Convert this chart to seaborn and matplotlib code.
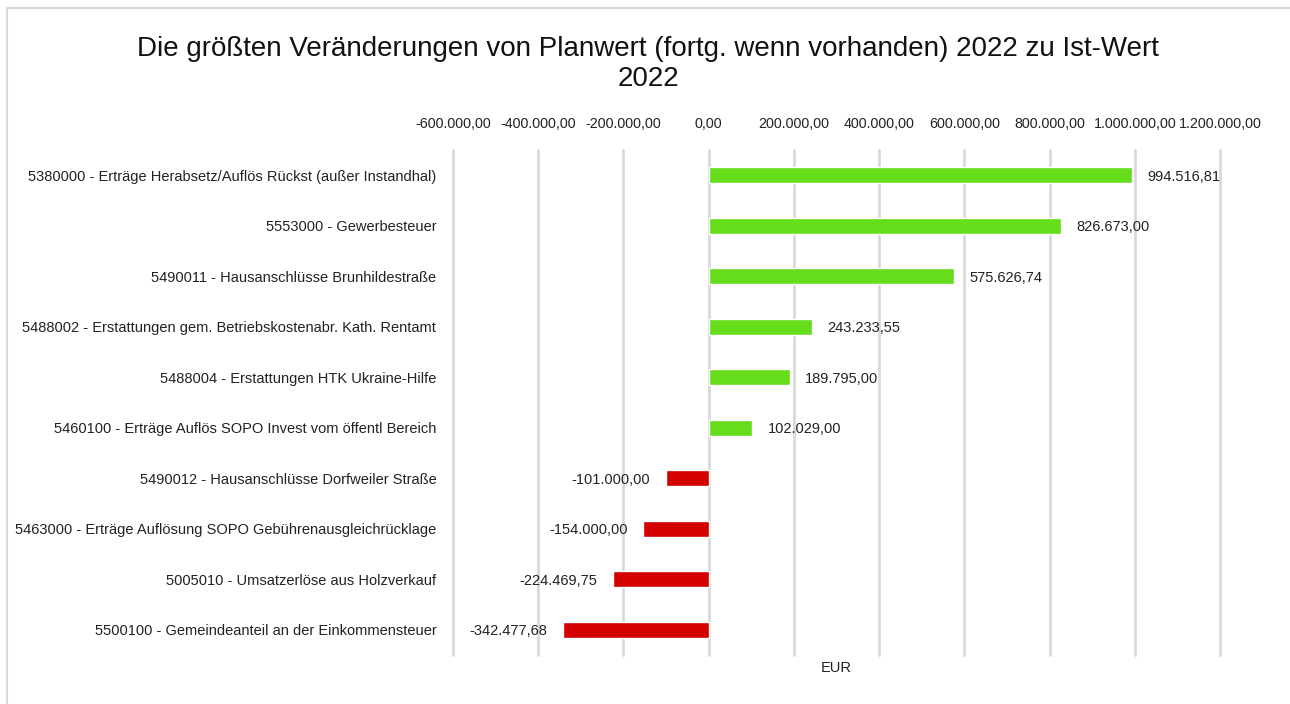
import pandas as pd
import seaborn as sns
import matplotlib.pyplot as plt
from matplotlib.patches import Rectangle

konten = [
    '5380000 - Erträge Herabsetz/Auflös Rückst (außer Instandhal)',
    '5553000 - Gewerbesteuer',
    '5490011 - Hausanschlüsse Brunhildestraße',
    '5488002 - Erstattungen gem. Betriebskostenabr. Kath. Rentamt',
    '5488004 - Erstattungen HTK Ukraine-Hilfe',
    '5460100 - Erträge Auflös SOPO Invest vom öffentl Bereich',
    '5490012 - Hausanschlüsse Dorfweiler Straße',
    '5463000 - Erträge Auflösung SOPO Gebührenausgleichrücklage',
    '5005010 - Umsatzerlöse aus Holzverkauf',
    '5500100 - Gemeindeanteil an der Einkommensteuer',
]
werte = [994516.81, 826673.00, 575626.74, 243233.55, 189795.00,
         102029.00, -101000.00, -154000.00, -224469.75, -342477.68]
ticks = [-600000, -400000, -200000, 0, 200000, 400000, 600000, 800000, 1000000, 1200000]


def de(v):
    return f"{v:,.2f}".replace(",", "X").replace(".", ",").replace("X", ".")


df = pd.DataFrame({'konto': konten, 'wert': werte})
df['vz'] = ['pos' if w >= 0 else 'neg' for w in werte]

sns.set_style('white')
plt.rcParams['font.family'] = ['Liberation Sans', 'DejaVu Sans']

fig = plt.figure(figsize=(12.9, 7.04), dpi=100)
ax = fig.add_axes([453 / 1290, 1 - 655 / 704, (1220 - 453) / 1290, 505 / 704])

sns.barplot(data=df, y='konto', x='wert', hue='vz', orient='h',
            palette={'pos': '#66dd1a', 'neg': '#d40000'}, saturation=1,
            width=0.32, dodge=False, legend=False, ax=ax)

for i, w in enumerate(werte):
    ax.annotate(de(w), (w, i), xytext=(11 if w >= 0 else -11, -1),
                textcoords='offset points', va='center',
                ha='left' if w >= 0 else 'right', fontsize=10.5, color='#222222')

ax.set_xlim(-600000, 1200000)
ax.set_ylim(9.5, -0.5)
ax.set_xticks(ticks)
ax.set_xticklabels([de(t) for t in ticks], fontsize=10.3, color='#222222')
ax.xaxis.tick_top()
ax.tick_params(axis='x', length=0, pad=14)
ax.tick_params(axis='y', length=0, pad=12, labelsize=10.5, labelcolor='#222222')
ax.grid(axis='x', color='#d9d9d9', linewidth=2)
for l in ax.get_xgridlines():
    l.set_clip_on(False)
ax.set_axisbelow(True)
for s in ax.spines.values():
    s.set_visible(False)
ax.set_ylabel('')
ax.set_xlabel('')
fig.text(836 / 1290, 1 - 668 / 704, 'EUR', ha='center', va='center',
         fontsize=10.5, color='#222222')

fig.text(648 / 1290, 1 - 64 / 704,
         'Die größten Veränderungen von Planwert (fortg. wenn vorhanden) 2022 zu Ist-Wert\n2022',
         ha='center', va='center', fontsize=20, color='#111111', linespacing=1.25)

fig.patches.append(Rectangle((7 / 1290, -0.01), 1.0, 1 - 8 / 704 + 0.01,
                             transform=fig.transFigure, fill=False,
                             edgecolor='#d9d9d9', linewidth=1.5))

plt.savefig('out.png', dpi=100)
